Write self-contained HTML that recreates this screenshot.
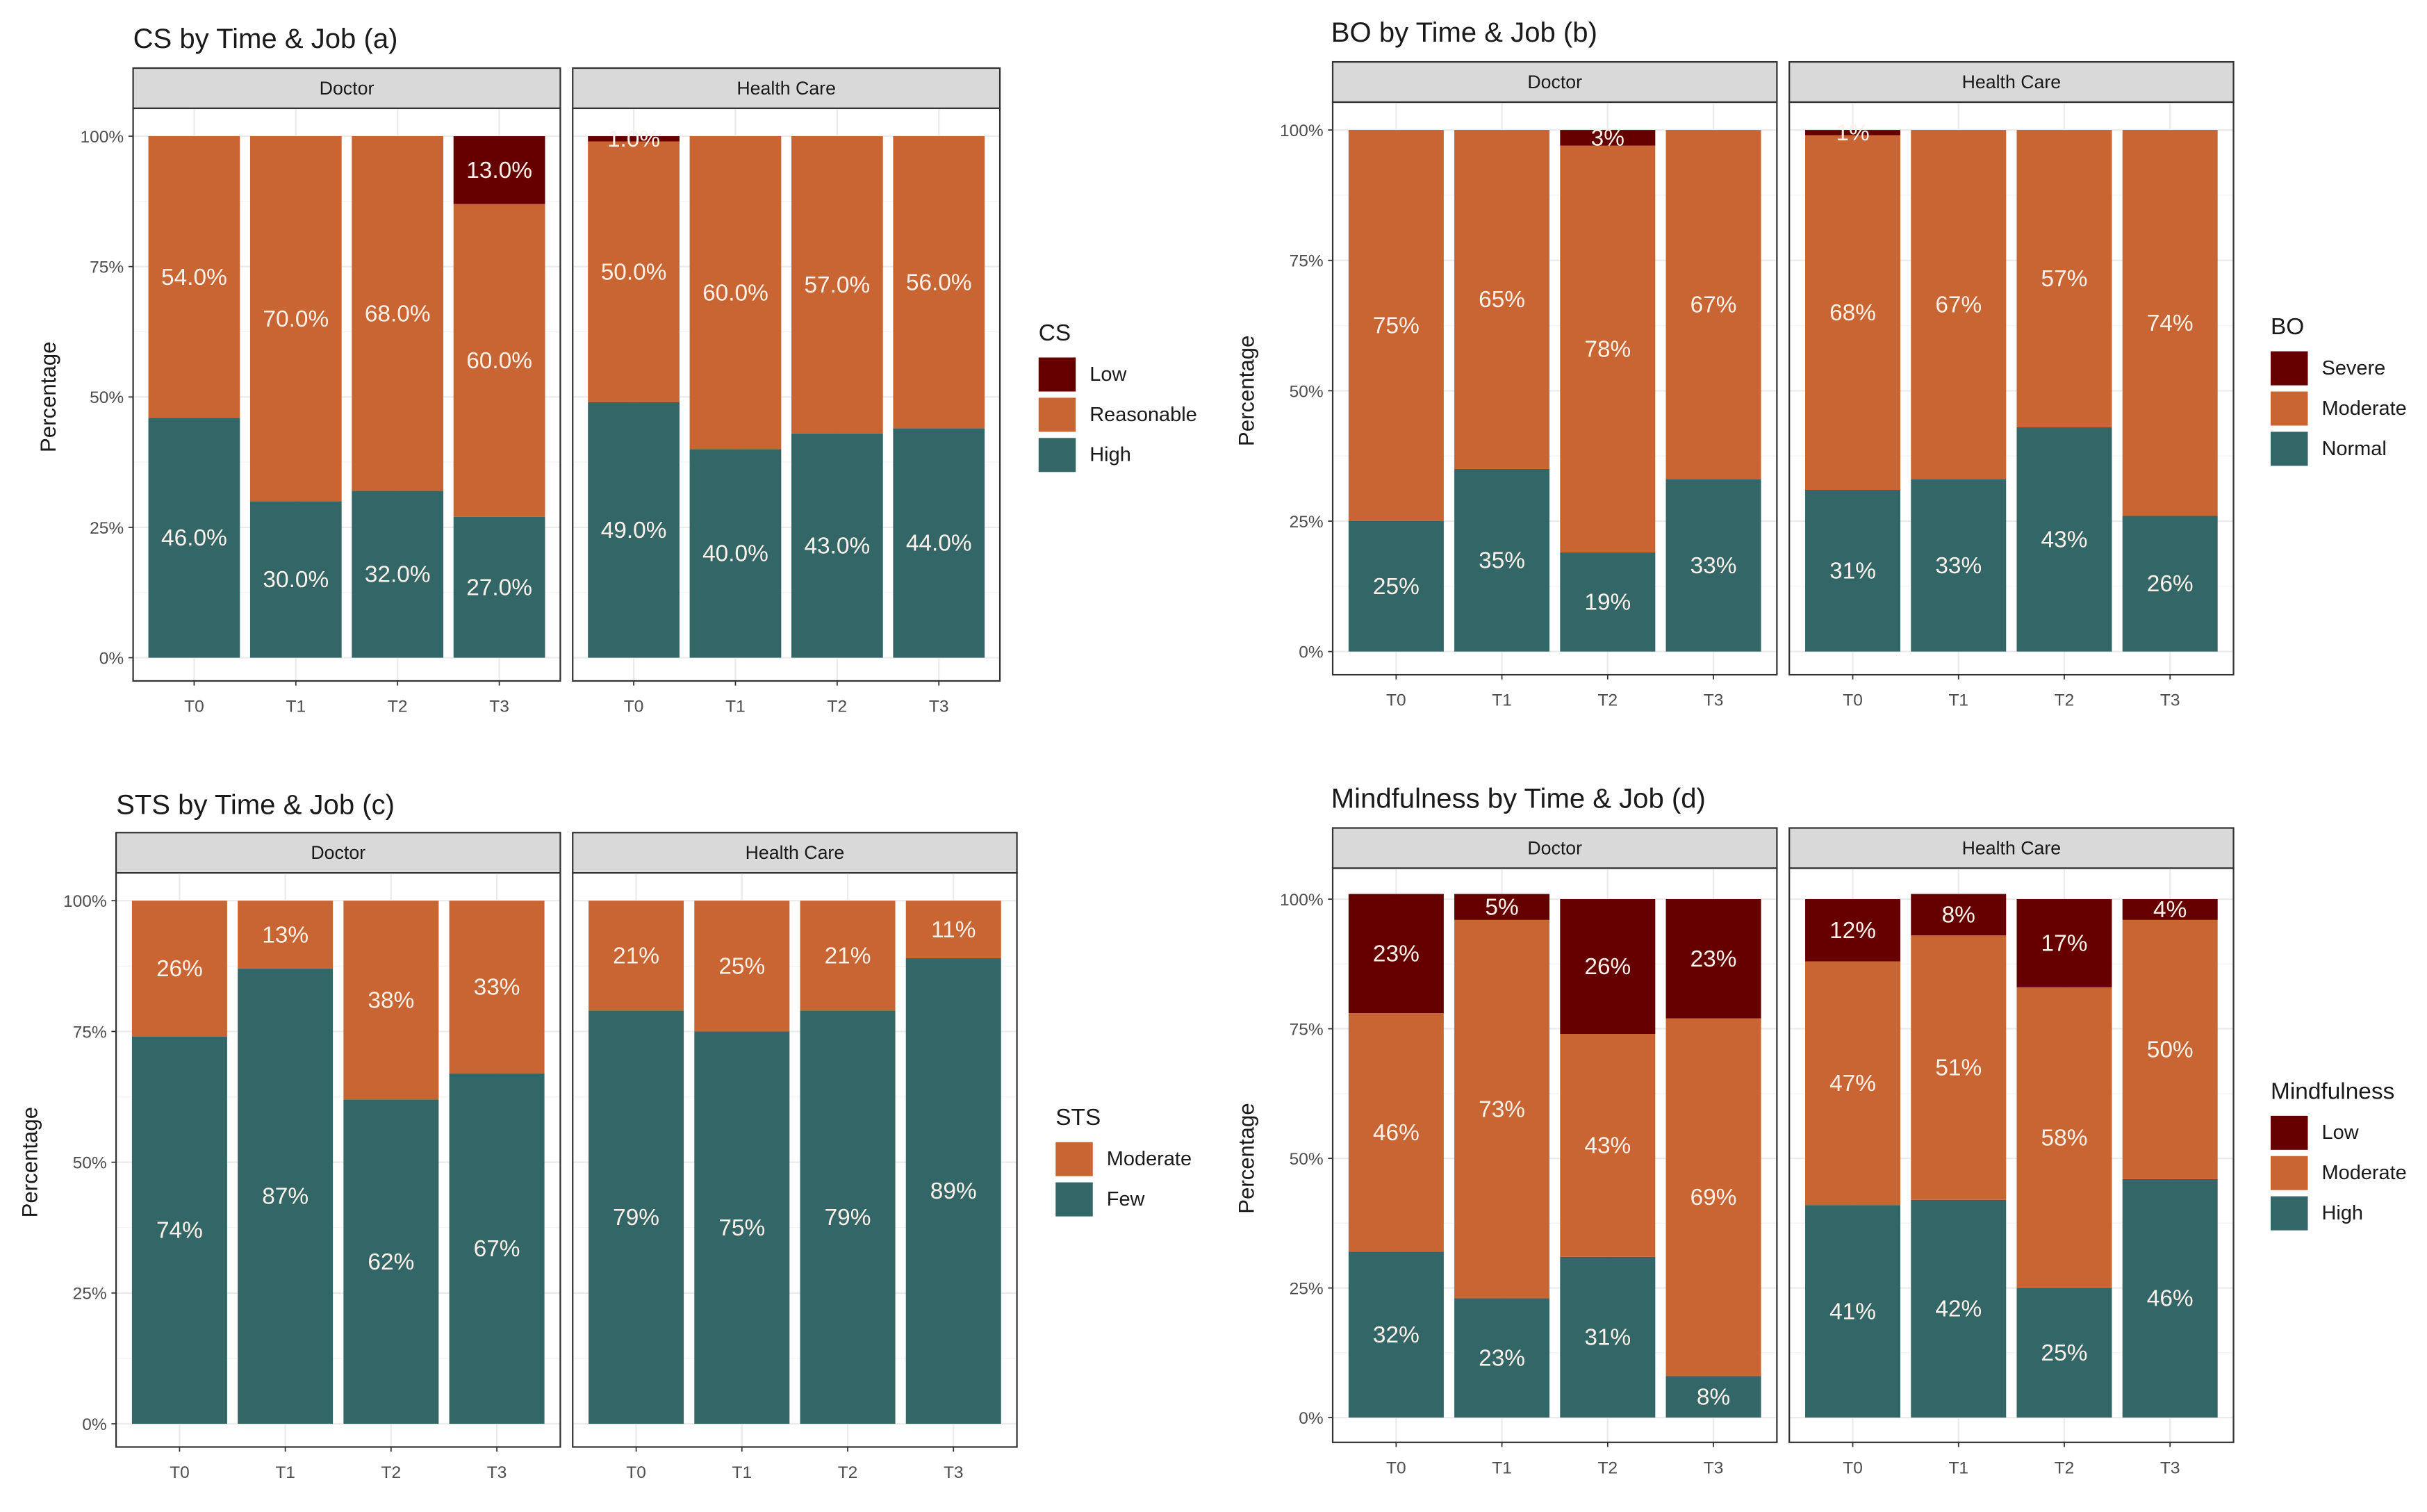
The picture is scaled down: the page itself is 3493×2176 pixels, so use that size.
<!DOCTYPE html>
<html><head><meta charset="utf-8"><style>
html,body{margin:0;padding:0;background:#fff;}
svg{display:block;font-family:"Liberation Sans",Arial,sans-serif;}
</style></head><body>
<svg id="chart" width="3493" height="2176" viewBox="0 0 1568 977" preserveAspectRatio="none" xmlns="http://www.w3.org/2000/svg"></svg>
<script>
const times = ["T0","T1","T2","T3"];
const jobs = ["Doctor","Health Care"];
const yTicks = [0,25,50,75,100];
const yTickLabels = ["0%","25%","50%","75%","100%"];
// (a) CS
const csHighDoc = [46,30,32,27], csReasDoc = [54,70,68,60], csLowDoc = [0,0,0,13];
const csHighHC = [49,40,43,44], csReasHC = [50,60,57,56], csLowHC = [1,0,0,0];
// (b) BO
const boNormDoc = [25,35,19,33], boModDoc = [75,65,78,67], boSevDoc = [0,0,3,0];
const boNormHC = [31,33,43,26], boModHC = [68,67,57,74], boSevHC = [1,0,0,0];
// (c) STS
const stsFewDoc = [74,87,62,67], stsModDoc = [26,13,38,33];
const stsFewHC = [79,75,79,89], stsModHC = [21,25,21,11];
// (d) Mindfulness
const mHighDoc = [32,23,31,8], mModDoc = [46,73,43,69], mLowDoc = [23,5,26,23];
const mHighHC = [41,42,25,46], mModHC = [47,51,58,50], mLowHC = [12,8,17,4];

const C_TEAL="#336666", C_OR="#C96532", C_RED="#660000";
const NS="http://www.w3.org/2000/svg";
const svg=document.getElementById('chart');
function mk(tag,attrs,parent){const e=document.createElementNS(NS,tag);for(const k in attrs)e.setAttribute(k,attrs[k]);(parent||svg).appendChild(e);return e;}
function txt(s,attrs,parent){const e=mk('text',attrs,parent);e.textContent=s;return e;}

function panel(cfg){
  const g=mk('g',{});
  
  
  const t=txt(cfg.title,{x:cfg.titleX,y:cfg.titleY,'font-size':18,fill:'#1a1a1a'},g);
  
  
  const y0=cfg.y0,y100=cfg.y100;
  const yS=v=>y0-(y0-y100)*v/100;
  const yl=txt('Percentage',{x:0,y:0,'font-size':14,fill:'#1a1a1a','text-anchor':'middle',transform:`translate(${cfg.ylabX},${(y0+y100)/2}) rotate(-90)`},g);
  
  
  yTicks.forEach((v,i)=>{
    const tl=txt(yTickLabels[i],{x:cfg.facets[0][0]-6,y:yS(v)+4,'font-size':11,fill:'#4d4d4d','text-anchor':'end'},g);
    
    
    mk('line',{x1:cfg.facets[0][0]-3,x2:cfg.facets[0][0],y1:yS(v),y2:yS(v),stroke:'#333','stroke-width':0.8},g);
  });
  jobs.forEach((job,j)=>{
    const [xl,xr]=cfg.facets[j];
    const w=xr-xl, unit=w/4.2;
    const xS=i=>xl+unit*(0.6+i);
    const st=mk('rect',{x:xl,y:cfg.stripY,width:w,height:26,fill:'#d9d9d9',stroke:'#333','stroke-width':1},g);
    
    
    txt(job,{x:xl+w/2,y:cfg.stripY+17,'font-size':12,fill:'#1a1a1a','text-anchor':'middle'},g);
    yTicks.forEach(v=>mk('line',{x1:xl,x2:xr,y1:yS(v),y2:yS(v),stroke:'#ebebeb','stroke-width':1},g));
    [12.5,37.5,62.5,87.5].forEach(v=>mk('line',{x1:xl,x2:xr,y1:yS(v),y2:yS(v),stroke:'#f4f4f4','stroke-width':0.6},g));
    times.forEach((tm,i)=>mk('line',{x1:xS(i),x2:xS(i),y1:cfg.stripY+26,y2:cfg.boxBottom,stroke:'#ebebeb','stroke-width':1},g));
    const series=cfg.series[j];
    times.forEach((tm,i)=>{
      let cum=0;
      series.forEach((s,k)=>{
        const v=s.vals[i];
        if(v<=0){return;}
        const top=yS(cum+v), bot=yS(cum);
        const r=mk('rect',{x:xS(i)-unit*0.45,y:top,width:unit*0.9,height:bot-top,fill:s.color},g);
        
        
        const lb=txt(v.toFixed(cfg.dec)+'%',{x:xS(i),y:(top+bot)/2+5,'font-size':15,fill:'#fdf1ea','text-anchor':'middle'},g);
        
        
        cum+=v;
      });
    });
    mk('rect',{x:xl,y:cfg.stripY+26,width:w,height:cfg.boxBottom-cfg.stripY-26,fill:'none',stroke:'#333','stroke-width':1},g);
    times.forEach((tm,i)=>{
      mk('line',{x1:xS(i),x2:xS(i),y1:cfg.boxBottom,y2:cfg.boxBottom+3,stroke:'#333','stroke-width':0.8},g);
      const xt=txt(tm,{x:xS(i),y:cfg.boxBottom+20,'font-size':11,fill:'#4d4d4d','text-anchor':'middle'},g);
      
      
    });
  });
  const lg=mk('g',{},g);
  
  
  txt(cfg.legTitle,{x:cfg.legX,y:cfg.legY,'font-size':15,fill:'#1a1a1a'},lg);
  cfg.legItems.forEach((it,k)=>{
    const yy=cfg.legY+11+k*26;
    const e=mk('g',{},lg);
    
    
    mk('rect',{x:cfg.legX,y:yy,width:24,height:22,fill:it[1]},e);
    txt(it[0],{x:cfg.legX+33,y:yy+15,'font-size':13,fill:'#1a1a1a'},e);
  });
}

panel({id:'cs',title:'CS by Time & Job (a)',titleX:86,titleY:31,stripY:44,boxBottom:440,y100:88,y0:425,ylabX:36,dec:1,
  facets:[[86,362],[370,646]],
  series:[[{name:'high',vals:csHighDoc,color:C_TEAL},{name:'reasonable',vals:csReasDoc,color:C_OR},{name:'low',vals:csLowDoc,color:C_RED}],
          [{name:'high',vals:csHighHC,color:C_TEAL},{name:'reasonable',vals:csReasHC,color:C_OR},{name:'low',vals:csLowHC,color:C_RED}]],
  legTitle:'CS',legX:671,legY:220,legItems:[['Low',C_RED],['Reasonable',C_OR],['High',C_TEAL]]});
panel({id:'bo',title:'BO by Time & Job (b)',titleX:860,titleY:27,stripY:40,boxBottom:436,y100:84,y0:421,ylabX:810,dec:0,
  facets:[[861,1148],[1156,1443]],
  series:[[{name:'normal',vals:boNormDoc,color:C_TEAL},{name:'moderate',vals:boModDoc,color:C_OR},{name:'severe',vals:boSevDoc,color:C_RED}],
          [{name:'normal',vals:boNormHC,color:C_TEAL},{name:'moderate',vals:boModHC,color:C_OR},{name:'severe',vals:boSevHC,color:C_RED}]],
  legTitle:'BO',legX:1467,legY:216,legItems:[['Severe',C_RED],['Moderate',C_OR],['Normal',C_TEAL]]});
panel({id:'sts',title:'STS by Time & Job (c)',titleX:75,titleY:526,stripY:538,boxBottom:935,y100:582,y0:920,ylabX:24,dec:0,
  facets:[[75,362],[370,657]],
  series:[[{name:'few',vals:stsFewDoc,color:C_TEAL},{name:'moderate',vals:stsModDoc,color:C_OR}],
          [{name:'few',vals:stsFewHC,color:C_TEAL},{name:'moderate',vals:stsModHC,color:C_OR}]],
  legTitle:'STS',legX:682,legY:727,legItems:[['Moderate',C_OR],['Few',C_TEAL]]});
panel({id:'mind',title:'Mindfulness by Time & Job (d)',titleX:860,titleY:522,stripY:535,boxBottom:932,y100:581,y0:916,ylabX:810,dec:0,
  facets:[[861,1148],[1156,1443]],
  series:[[{name:'high',vals:mHighDoc,color:C_TEAL},{name:'moderate',vals:mModDoc,color:C_OR},{name:'low',vals:mLowDoc,color:C_RED}],
          [{name:'high',vals:mHighHC,color:C_TEAL},{name:'moderate',vals:mModHC,color:C_OR},{name:'low',vals:mLowHC,color:C_RED}]],
  legTitle:'Mindfulness',legX:1467,legY:710,legItems:[['Low',C_RED],['Moderate',C_OR],['High',C_TEAL]]});
</script>
</body></html>
